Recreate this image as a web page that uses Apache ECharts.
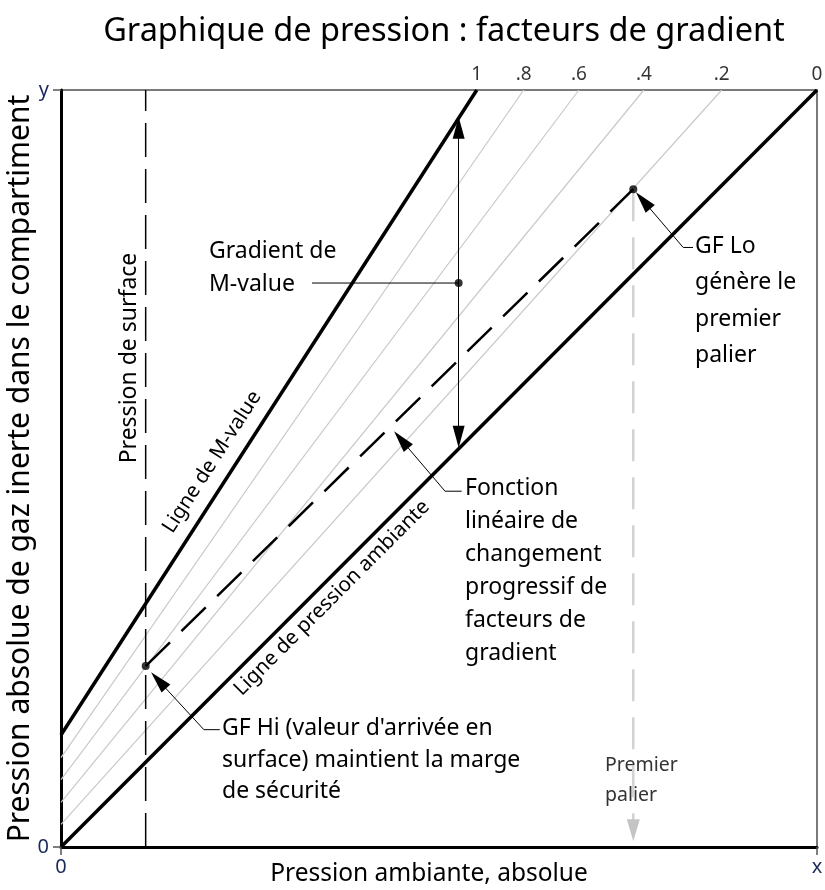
<!DOCTYPE html>
<html>
<head>
<meta charset="utf-8">
<script src="https://cdn.jsdelivr.net/npm/echarts@6/dist/echarts.min.js"></script>
<style>
  html, body { margin: 0; padding: 0; background: #fff; }
  #chart { width: 825px; height: 890px; }
</style>
</head>
<body>
<div id="chart"></div>
<script>
// gradient factor lines: each runs from the left axis (x=0) up to the top edge (y=1)
var gfLabels = ['1', '.8', '.6', '.4', '.2', '0'];
var gfTopX = [0.55, 0.612, 0.685, 0.771, 0.874, 1];
var gfLeftY = [0.148, 0.118, 0.089, 0.059, 0.030, 0];

var surfaceX = 0.112;
var gfHi = [0.112, 0.239];
var gfLo = [0.757, 0.869];

// M-value gradient double arrow
var mGradX = 0.526;
var mGradTop = 0.950;
var mGradBottom = 0.542;
var mGradMid = 0.745;
var mLabelEndX = 0.332;

// leader lines [text end, elbow, arrow head]
var leaderLo = [[0.836, 0.792], [0.823, 0.792], [0.770, 0.854]];
var leaderFn = [[0.530, 0.470], [0.508, 0.470], [0.450, 0.538]];
var leaderHi = [[0.210, 0.155], [0.189, 0.155], [0.129, 0.220]];
var firstStopArrowY = 0.022;

var FONT = '"Noto Sans", sans-serif';
var navy = '#1b2a5c';

var chart = echarts.init(document.getElementById('chart'));

var series = [];
for (var i = 0; i < gfLabels.length; i++) {
    var edge = (i === 0 || i === gfLabels.length - 1);
    series.push({
        type: 'line',
        name: 'GF ' + gfLabels[i],
        data: [[0, gfLeftY[i]], [gfTopX[i], 1]],
        symbol: 'none',
        silent: true,
        z: edge ? 5 : 2,
        lineStyle: {
            color: edge ? '#000' : '#c9c9c9',
            width: edge ? 3.5 : 1.2
        }
    });
}

// top labels for the gf lines
series.push({
    type: 'scatter',
    data: gfTopX.map(function (x, i) { return [x, 1, gfLabels[i]]; }),
    symbolSize: 0,
    silent: true,
    label: {
        show: true,
        position: 'top',
        distance: 6,
        formatter: function (p) { return p.value[2]; },
        color: '#000',
        fontSize: 19,
        fontFamily: FONT
    }
});

// surface pressure
series.push({
    type: 'line',
    data: [[surfaceX, 0], [surfaceX, 1]],
    symbol: 'none',
    silent: true,
    lineStyle: { color: '#000', width: 1.5, type: [34, 12] }
});

// first stop (gray dashed, arrow down)
series.push({
    type: 'line',
    data: [[gfLo[0], gfLo[1]], [gfLo[0], firstStopArrowY]],
    symbol: 'none',
    silent: true,
    z: 1,
    lineStyle: { color: '#d2d2d2', width: 2.5, type: [32, 16] },
    markLine: {
        silent: true,
        label: { show: false },
        lineStyle: { color: '#c4c4c4', width: 0 },
        data: [[
            { coord: [gfLo[0], firstStopArrowY + 0.001], symbol: 'none' },
            { coord: [gfLo[0], firstStopArrowY], symbol: 'triangle', symbolSize: [13, 22] }
        ]]
    }
});

// linear change of GF (dashed)
series.push({
    type: 'line',
    data: [gfHi, gfLo],
    symbol: 'none',
    silent: true,
    z: 4,
    lineStyle: { color: '#000', width: 2.5, type: [34, 16] }
});

// M-value gradient label line
series.push({
    type: 'line',
    data: [[mLabelEndX, mGradMid], [mGradX, mGradMid]],
    symbol: 'none',
    silent: true,
    z: 4,
    lineStyle: { color: '#000', width: 1 }
});

function leaderSeries(pts) {
    return {
        type: 'line',
        data: pts.slice(0, 2),
        symbol: 'none',
        silent: true,
        z: 6,
        lineStyle: { color: '#000', width: 1 },
        markLine: {
            silent: true,
            label: { show: false },
            lineStyle: { color: '#000', width: 1, type: 'solid' },
            data: [[
                { coord: pts[1], symbol: 'none' },
                { coord: pts[2], symbol: 'triangle', symbolSize: [12, 22] }
            ]]
        }
    };
}
series.push(leaderSeries(leaderLo));
series.push(leaderSeries(leaderFn));
series.push(leaderSeries(leaderHi));

// double arrow
series.push({
    type: 'line',
    data: [],
    silent: true,
    markLine: {
        silent: true,
        label: { show: false },
        lineStyle: { color: '#000', width: 1, type: 'solid' },
        data: [[
            { coord: [mGradX, mGradBottom], symbol: 'triangle', symbolSize: [12, 22] },
            { coord: [mGradX, mGradTop], symbol: 'triangle', symbolSize: [12, 22] }
        ]]
    }
});

// dots
series.push({
    type: 'scatter',
    data: [gfHi, gfLo, [mGradX, mGradMid]],
    symbolSize: 8,
    silent: true,
    z: 7,
    itemStyle: { color: '#000' }
});

function txt(x, y, text, size, lh, color) {
    return {
        type: 'text',
        x: x, y: y,
        silent: true,
        style: {
            text: text,
            font: size + 'px ' + FONT,
            lineHeight: lh,
            fill: color || '#000',
            verticalAlign: 'top'
        }
    };
}
function rtxt(x, y, text, size, deg) {
    return {
        type: 'text',
        x: x, y: y,
        rotation: deg * Math.PI / 180,
        silent: true,
        style: {
            text: text,
            font: size + 'px ' + FONT,
            fill: '#000',
            align: 'center',
            verticalAlign: 'middle'
        }
    };
}

var option = {
    animation: false,
    backgroundColor: '#fff',
    title: {
        text: 'Graphique de pression : facteurs de gradient',
        left: 439,
        top: 10,
        textAlign: 'center',
        textStyle: { fontFamily: FONT, fontSize: 32.5, fontWeight: 'normal', color: '#000' }
    },
    grid: {
        left: 61, top: 90, width: 756, height: 757,
        outerBoundsMode: 'none',
        containLabel: false,
        show: true,
        borderColor: '#7a7a7a',
        borderWidth: 2
    },
    xAxis: {
        type: 'value',
        min: 0, max: 1, interval: 1,
        name: 'Pression ambiante, absolue',
        nameLocation: 'middle',
        nameGap: 12,
        nameMoveOverlap: false,
        nameTextStyle: {
            fontFamily: FONT, fontSize: 24.5, color: '#000', verticalAlign: 'top',
            padding: [3, 20, 0, 0]
        },
        axisLine: { lineStyle: { color: '#000', width: 3 } },
        axisTick: { show: true, length: 8, lineStyle: { color: '#555', width: 1.5 } },
        axisLabel: {
            margin: 10,
            fontFamily: FONT, fontSize: 20, color: navy,
            formatter: function (v) { return v === 0 ? '0' : 'x'; }
        },
        splitLine: { show: false }
    },
    yAxis: {
        type: 'value',
        min: 0, max: 1, interval: 1,
        name: 'Pression absolue de gaz inerte dans le compartiment',
        nameLocation: 'middle',
        nameGap: 26,
        nameMoveOverlap: false,
        nameTextStyle: { fontFamily: FONT, fontSize: 30, color: '#000' },
        axisLine: { lineStyle: { color: '#000', width: 3 } },
        axisTick: { show: true, length: 8, lineStyle: { color: '#555', width: 1.5 } },
        axisLabel: {
            margin: 12,
            fontFamily: FONT, fontSize: 20, color: navy,
            formatter: function (v) { return v === 0 ? '0' : 'y'; }
        },
        splitLine: { show: false }
    },
    graphic: [
        txt(209, 235, 'Gradient de\nM-value', 23, 33),
        txt(695, 228, 'GF Lo\ngénère le\npremier\npalier', 23, 36.5),
        txt(465, 472, 'Fonction\nlinéaire de\nchangement\nprogressif de\nfacteurs de\ngradient', 23, 33),
        txt(222, 713, "GF Hi (valeur d'arrivée en\nsurface) maintient la marge\nde sécurité", 23, 31.5),
        txt(605, 750, 'Premier\npalier', 19.5, 30, '#333'),
        rtxt(212, 462, 'Ligne de M-value', 20.5, 57.2),
        rtxt(332, 598, 'Ligne de pression ambiante', 20.5, 45),
        rtxt(129, 358, 'Pression de surface', 23, 90)
    ],
    series: series
};

chart.setOption(option);
</script>
</body>
</html>
